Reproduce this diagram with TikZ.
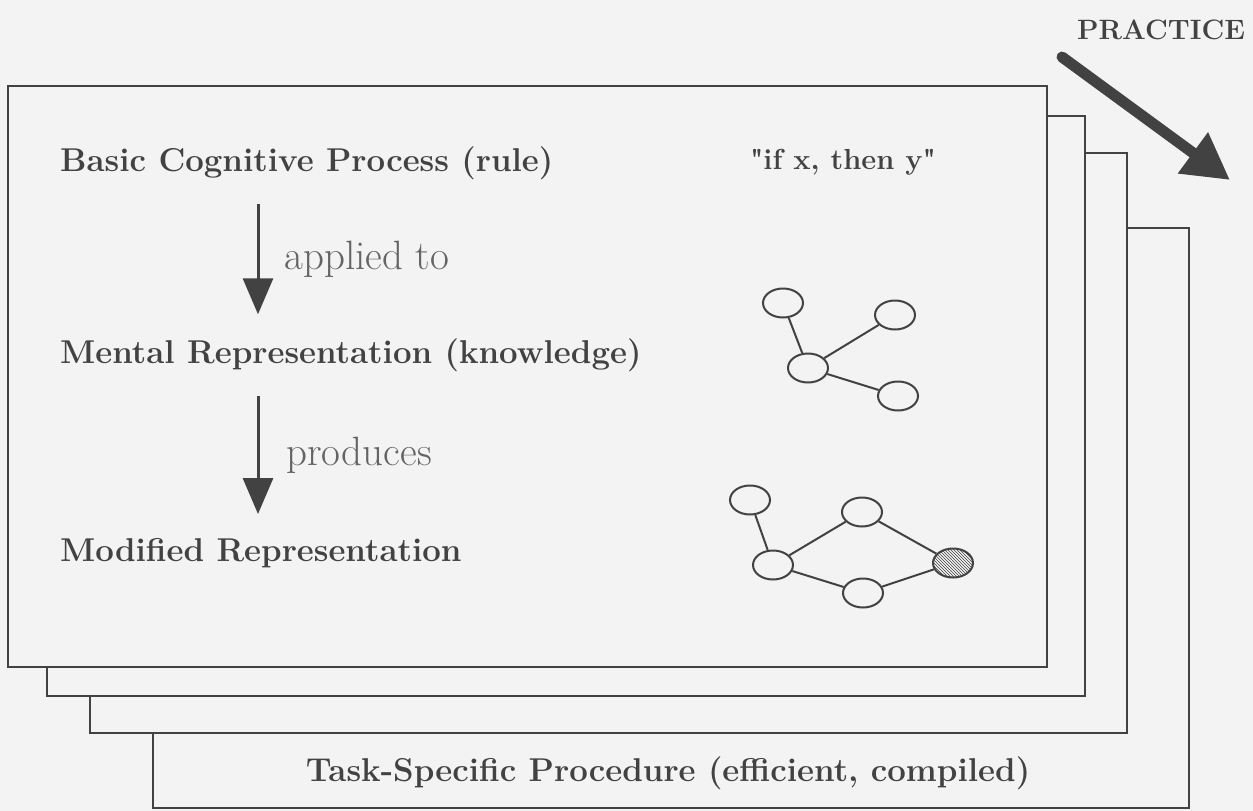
\documentclass[tikz,border=0pt]{standalone}
\usepackage{tikz}
\usepackage{xcolor}
\usetikzlibrary{arrows.meta, shapes.geometric, patterns, positioning, calc}
\definecolor{paper}{RGB}{243,243,243}
\definecolor{ink}{RGB}{66,66,66}
\definecolor{lite}{RGB}{100,100,100}
\tikzset{
  card/.style={draw=ink, line width=1.6pt, fill=paper},
  lbl/.style={anchor=west, text=ink, inner sep=2pt, font=\bfseries\fontsize{33}{38}\selectfont},
  verb/.style={text=lite, inner sep=2pt, font=\fontsize{41}{46}\selectfont},
  blob/.style={ellipse, draw=ink, line width=2pt, minimum width=40pt, minimum height=29pt, inner sep=0pt},
  link/.style={draw=ink, line width=2pt},
  down/.style={draw=ink, line width=3pt, shorten <=22pt, shorten >=22pt, -{Triangle[width=30pt, length=36pt]}},
}
\begin{document}
\begin{tikzpicture}[x=1pt, y=-1pt]
                        \useasboundingbox[fill=paper] (0, 0) rectangle (1253, 811);
                        % stacked cards, back to front
                        \draw[card] (153, 228) rectangle (1189, 808);
                        \draw[card] (90, 153) rectangle (1127, 733);
                        \draw[card] (47, 116) rectangle (1085, 696);
                        \draw[card] (8, 86) rectangle (1047, 667);
                        \node[lbl] (basic) at (58, 163) {Basic Cognitive Process (rule)};
                        \node[lbl] (mental) at (58, 355) {Mental Representation (knowledge)};
                        \node[lbl] (modified) at (58, 553) {Modified Representation};
                        \node[lbl, anchor=center, font=\bfseries\fontsize{29}{34}\selectfont] (rule) at (843, 162) {\textquotedbl if x, then y\textquotedbl};
                        \node[lbl, anchor=center] (task) at (668, 773) {Task-Specific Procedure (efficient, compiled)};
                        \node[lbl, anchor=center, font=\bfseries\fontsize{28}{32}\selectfont] (practice) at (1161, 30) {PRACTICE};
                        \coordinate (col) at (258, 0);
                        \coordinate (ps) at (1062, 57);
                        \coordinate (pe) at (1230, 180);
                        % knowledge graph before
                        \node[blob] (a) at (783, 303) {};
                        \node[blob] (b) at (895, 315) {};
                        \node[blob] (c) at (808, 368) {};
                        \node[blob] (d) at (898, 396) {};
                        % knowledge graph after
                        \node[blob] (e) at (750, 500) {};
                        \node[blob] (f) at (862, 512) {};
                        \node[blob] (g) at (773, 565) {};
                        \node[blob] (h) at (863, 593) {};
                        \node[blob, pattern=north west lines, pattern color=ink] (i) at (953, 563) {};
                        \draw[link] (a) -- (c) (c) -- (b) (c) -- (d);
                        \draw[link] (e) -- (g) (g) -- (f) (g) -- (h) (f) -- (i) (h) -- (i);
                        \draw[down] (basic.south -| col) -- node[verb, right=23pt] {applied to} (mental.north -| col);
                        \draw[down] (mental.south -| col) -- node[verb, right=25pt] {produces} (modified.north -| col);
                        \draw[draw=ink, line width=11pt, line cap=round, -{Triangle[width=48pt, length=46pt]}] (ps) -- (pe);
                    \end{tikzpicture}
\end{document}
